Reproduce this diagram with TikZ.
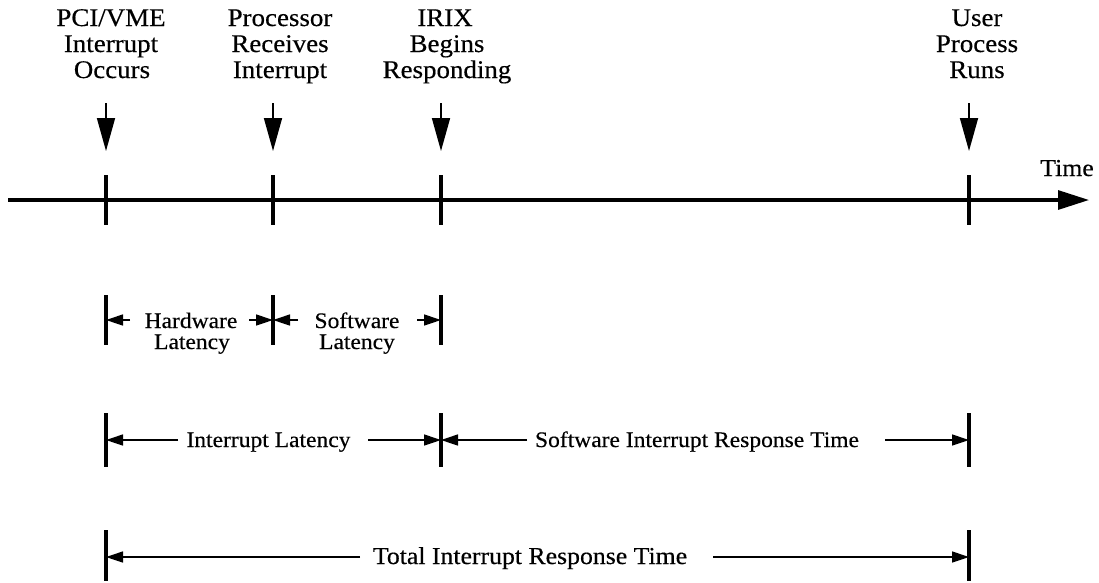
\documentclass[tikz,border=0pt]{standalone}
\usepackage{fontspec}
\setmainfont{Liberation Serif}[FakeStretch=1.06,FakeBold=0.4]
\usetikzlibrary{arrows.meta}
\begin{document}
\begin{tikzpicture}[x=1pt,y=-1pt,
  toplbl/.style={font=\fontsize{25.4}{26}\selectfont, anchor=base, inner sep=0pt},
  timelbl/.style={font=\fontsize{24.3}{26}\selectfont, anchor=base, inner sep=0pt},
  midlbl/.style={font=\fontsize{22.2}{24}\selectfont, anchor=base, inner sep=0pt},
  botlbl/.style={font=\fontsize{24.3}{26}\selectfont, anchor=base, inner sep=0pt},
  axisln/.style={line width=3.1pt, -{Triangle[length=31pt,width=19pt]}},
  tickln/.style={line width=3.3pt},
  downarr/.style={line width=1.7pt, -{Triangle[length=33pt,width=18pt]}},
  dimarr/.style={line width=1.4pt, -{Triangle[length=17pt,width=11pt]}}
]
\useasboundingbox (0,0) rectangle (1099,582);

% time axis
\coordinate (ax0) at (8,200);
\coordinate (ax1) at (1089,200);
\draw[axisln] (ax0) -- (ax1);
\node[timelbl] (tm) at (1067,176) {Time};

% ticks and incoming arrows
\foreach \n/\x in {a/106,b/273,c/441,d/969}{
  \coordinate (t\n) at (\x,175);
  \coordinate (u\n) at (\x,225);
  \coordinate (s\n) at (\x,103);
  \coordinate (e\n) at (\x,151);
  \draw[tickln] (t\n) -- (u\n);
  \draw[downarr] (s\n) -- (e\n);
}

% top labels
\node[toplbl] (l1a) at (111,26) {PCI/VME};
\node[toplbl] (l1b) at (111,52) {Interrupt};
\node[toplbl] (l1c) at (112,78) {Occurs};
\node[toplbl] (l2a) at (280,26) {Processor};
\node[toplbl] (l2b) at (280,52) {Receives};
\node[toplbl] (l2c) at (280,78) {Interrupt};
\node[toplbl] (l3a) at (445,26) {IRIX};
\node[toplbl] (l3b) at (447,52) {Begins};
\node[toplbl] (l3c) at (447,78) {Responding};
\node[toplbl] (l4a) at (977,26) {User};
\node[toplbl] (l4b) at (977,52) {Process};
\node[toplbl] (l4c) at (977,78) {Runs};

% row 2: hardware / software latency
\foreach \n/\x in {a/106,b/273,c/441}{
  \coordinate (p\n) at (\x,295);
  \coordinate (q\n) at (\x,345);
  \coordinate (m\n) at (\x,320);
  \draw[tickln] (p\n) -- (q\n);
}
\coordinate (hw0) at (130,320);
\coordinate (hw1) at (249,320);
\coordinate (sw0) at (298,320);
\coordinate (sw1) at (417,320);
\draw[dimarr] (hw0) -- (ma);
\draw[dimarr] (hw1) -- (mb);
\draw[dimarr] (sw0) -- (mb);
\draw[dimarr] (sw1) -- (mc);
\node[midlbl] (hwa) at (191,328) {Hardware};
\node[midlbl] (hwb) at (192,349) {Latency};
\node[midlbl] (swa) at (357,328) {Software};
\node[midlbl] (swb) at (357,349) {Latency};

% row 3: interrupt latency / software interrupt response time
\foreach \n/\x in {a/106,c/441,d/969}{
  \coordinate (f\n) at (\x,413);
  \coordinate (g\n) at (\x,467);
  \coordinate (k\n) at (\x,440);
  \draw[tickln] (f\n) -- (g\n);
}
\coordinate (il0) at (178,440);
\coordinate (il1) at (368,440);
\coordinate (sr0) at (527,440);
\coordinate (sr1) at (885,440);
\draw[dimarr] (il0) -- (ka);
\draw[dimarr] (il1) -- (kc);
\draw[dimarr] (sr0) -- (kc);
\draw[dimarr] (sr1) -- (kd);
\node[midlbl] (ilt) at (268.5,447) {Interrupt Latency};
\node[midlbl] (srt) at (697,447) {Software Interrupt Response Time};

% row 4: total interrupt response time
\foreach \n/\x in {a/106,d/969}{
  \coordinate (v\n) at (\x,530);
  \coordinate (w\n) at (\x,581);
  \coordinate (z\n) at (\x,557);
  \draw[tickln] (v\n) -- (w\n);
}
\coordinate (to0) at (360,557);
\coordinate (to1) at (713,557);
\draw[dimarr] (to0) -- (za);
\draw[dimarr] (to1) -- (zd);
\node[botlbl] (tot) at (530,564) {Total Interrupt Response Time};
\end{tikzpicture}
\end{document}
